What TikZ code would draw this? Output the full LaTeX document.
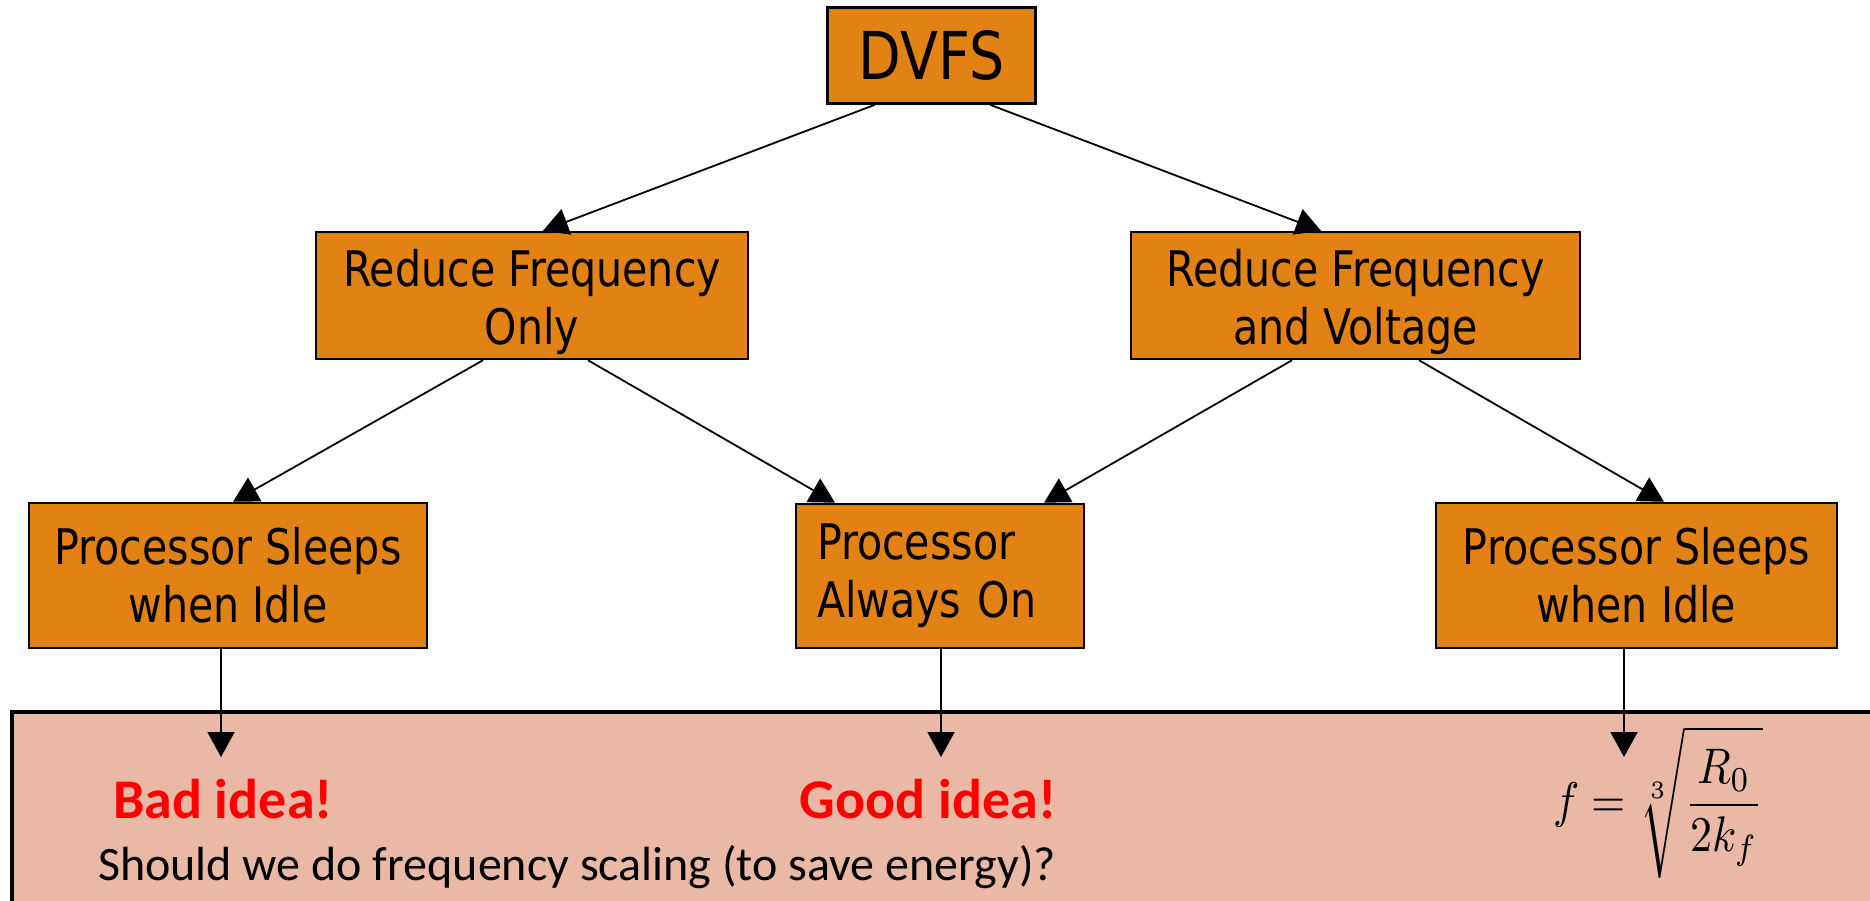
\documentclass[tikz,border=0pt]{standalone}
\usepackage{graphicx}
\usepackage{fontspec}
\setmainfont{DejaVu Sans}[FakeStretch=0.84]
\newfontfamily\calib{Carlito}
\usetikzlibrary{arrows.meta}
\definecolor{boxorange}{RGB}{227,130,20}
\definecolor{panelpink}{RGB}{233,185,165}
\newcommand{\firstline}{\rule{0pt}{51pt}}
\tikzset{
  stepbox/.style={draw=black, line width=2.5pt, fill=boxorange, inner sep=0pt,
    font=\fontsize{49}{58}\selectfont, align=center},
  link/.style={line width=1.8pt, -{Triangle[width=27pt,length=25pt]}},
  verdict/.style={font=\calib\bfseries\fontsize{56}{60}\selectfont, text=red}
}
\begin{document}
\begin{tikzpicture}[x=1pt,y=-1pt]
\useasboundingbox (0,0) rectangle (1870,901);
\begin{scope}
\clip (0,0) rectangle (1870,901);
% lower panel
\draw[line width=3.5pt, fill=panelpink] (12,712) rectangle (1890,920);
\end{scope}

% tree nodes
\node[stepbox, minimum width=208pt, minimum height=96pt, font=\fontsize{66}{70}\selectfont] (dvfs) at (931.5,55.5) {DVFS};
\node[stepbox, minimum width=432pt, minimum height=127pt] (rfo) at (532,295.5) {\firstline Reduce Frequency\\Only};
\node[stepbox, minimum width=449pt, minimum height=127pt] (rfv) at (1355.5,295.5) {\firstline Reduce Frequency\\and Voltage};
\node[stepbox, minimum width=398pt, minimum height=145pt] (psl) at (228,575.5) {Processor Sleeps\\when Idle};
\node[stepbox, minimum width=288pt, minimum height=144pt, align=left, text width=246pt] (pao) at (940,576) {Processor\\Always On};
\node[stepbox, minimum width=401pt, minimum height=145pt] (psr) at (1636.5,575.5) {Processor Sleeps\\when Idle};

% branches
\draw[link] ([xshift=-56.5pt]dvfs.south) -- ([xshift=11pt]rfo.north);
\draw[link] ([xshift=58.5pt]dvfs.south) -- ([xshift=-34.5pt]rfv.north);
\draw[link] ([xshift=-49pt]rfo.south) -- ([xshift=5pt]psl.north);
\draw[link] ([xshift=56pt]rfo.south) -- ([xshift=-105pt]pao.north);
\draw[link] ([xshift=-63.5pt]rfv.south) -- ([xshift=104pt]pao.north);
\draw[link] ([xshift=63.5pt]rfv.south) -- ([xshift=27.5pt]psr.north);

% outcomes
\coordinate (endl) at (221,757);
\coordinate (endm) at (941,757);
\coordinate (endr) at (1624,757);
\draw[link] ([xshift=-7pt]psl.south) -- (endl);
\draw[link] ([xshift=1pt]pao.south) -- (endm);
\draw[link] ([xshift=-12.5pt]psr.south) -- (endr);

\node[verdict] (bad) at (223,799) {Bad idea!};
\node[verdict] (good) at (928,799) {Good idea!};
\node[font=\calib\fontsize{48}{52}\selectfont, anchor=base west, inner sep=0pt] (question) at (98,880) {Should we do frequency scaling (to save energy)?};
\node[inner sep=0pt] (formula) at (1658,802) {\scalebox{4.4}[5]{$\displaystyle f=\sqrt[3]{\frac{R_0}{2k_f}}$}};
\end{tikzpicture}
\end{document}
